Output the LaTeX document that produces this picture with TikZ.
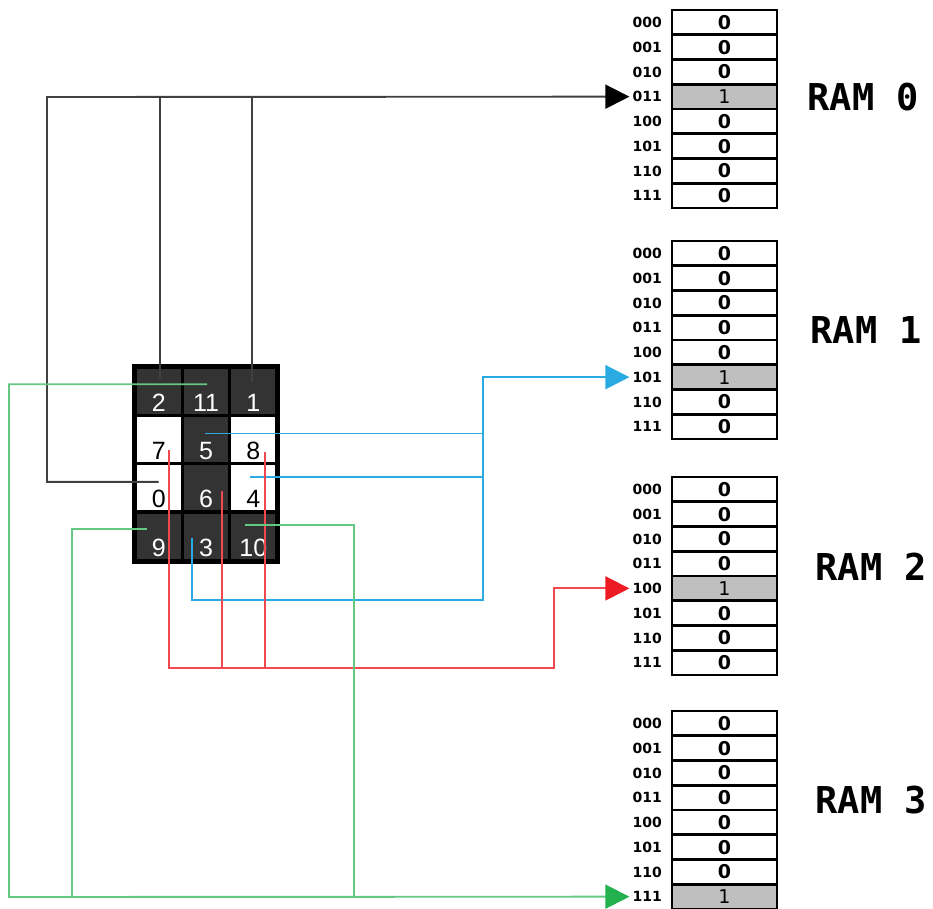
\documentclass[tikz,border=0pt]{standalone}
\usepackage{fontspec}
\usetikzlibrary{arrows.meta,calc}
\newfontfamily\cellfont{Liberation Sans}
\newfontfamily\addrfont{DejaVu Sans}
\newfontfamily\ramfont{DejaVu Sans Mono}
\definecolor{cdark}{RGB}{51,51,51}
\definecolor{cblue}{RGB}{41,171,226}
\definecolor{cred}{RGB}{237,28,36}
\definecolor{cgreen}{RGB}{34,177,76}

\begin{document}
\begin{tikzpicture}[x=1pt,y=-1pt,
   tile/.style={draw=black,line width=3.5pt,minimum width=47.3pt,minimum height=48.3pt,inner sep=0pt,
                text height=40pt,text depth=0pt,font=\cellfont\fontsize{25}{27}\selectfont},
   dk/.style={tile,fill=cdark,text=white},
   lt/.style={tile,fill=white,text=black},
   slot/.style={draw=black,line width=2.8pt,minimum width=105pt,minimum height=24.75pt,inner sep=0pt,
                font=\addrfont\fontsize{19}{19}\selectfont},
   addr/.style={anchor=east,inner sep=3pt,font=\addrfont\bfseries\fontsize{14}{14}\selectfont},
   ramlbl/.style={anchor=west,font=\ramfont\bfseries\fontsize{37}{37}\selectfont},
   wire/.style={line width=1.9pt},
   arr/.style={-{Triangle[length=24pt,width=24pt,color=#1]}}]
  \useasboundingbox (0,0) rectangle (933,908);
  % memory banks (8 words each, the hit word is grey)
  \foreach \k/\top/\hot in {0/10/3,1/241/5,2/477/4,3/711/7}{
    \foreach \a [count=\i from 0] in {000,001,010,011,100,101,110,111}{
      \ifnum\i=\hot \def\fc{gray!50}\def\v{1}\else \def\fc{white}\def\v{\bfseries 0}\fi
      \node[slot,fill=\fc] (ram\k-\i) at (724.5,\top+12.4+24.75*\i) {\v};
      \node[addr] (adr\k-\i) at (665,\top+12.4+24.75*\i) {\a};
    }
  }
  \node[ramlbl] (lbl0) at (804,97)  {RAM 0};
  \node[ramlbl] (lbl1) at (807,330) {RAM 1};
  \node[ramlbl] (lbl2) at (812,567) {RAM 2};
  \node[ramlbl] (lbl3) at (812,800) {RAM 3};
  % the 3x4 tile block
  \node[dk] (c2)  at (158.7,391.2) {2};
  \node[dk] (c11) at (206,391.2)   {11};
  \node[dk] (c1)  at (253.3,391.2) {1};
  \node[lt] (c7)  at (158.7,439.5) {7};
  \node[dk] (c5)  at (206,439.5)   {5};
  \node[lt] (c8)  at (253.3,439.5) {8};
  \node[lt] (c0)  at (158.7,487.8) {0};
  \node[dk] (c6)  at (206,487.8)   {6};
  \node[lt] (c4)  at (253.3,487.8) {4};
  \node[dk] (c9)  at (158.7,536.1) {9};
  \node[dk] (c3)  at (206,536.1)   {3};
  \node[dk] (c10) at (253.3,536.1) {10};
  \draw[line width=3pt] (c2.north west) rectangle (c10.south east);
  % wire start points inside the tiles
  \coordinate (s2)  at ([shift={(1,-12)}]c2.center);
  \coordinate (s1)  at ([shift={(-1,-9)}]c1.center);
  \coordinate (s0)  at ([shift={(0,-6)}]c0.center);
  \coordinate (s11) at ([shift={(1,-7)}]c11.center);
  \coordinate (s5)  at ([shift={(-1,-6)}]c5.center);
  \coordinate (s4)  at ([shift={(-3,-11)}]c4.center);
  \coordinate (s3)  at ([shift={(-14,2)}]c3.center);
  \coordinate (s7)  at ([shift={(10,10)}]c7.center);
  \coordinate (s6)  at ([shift={(16,3)}]c6.center);
  \coordinate (s8)  at ([shift={(12,12)}]c8.center);
  \coordinate (s9)  at ([shift={(-12,-7)}]c9.center);
  \coordinate (s10) at ([shift={(-8,-11)}]c10.center);
  % --- tiles 0,1,2 -> RAM 0 / 011 ---
  \draw[wire,draw=black!75,arr=black] (s0) -| (47,97) -- (adr0-3.west);
  \draw[wire,draw=black!75] (s2) -- (s2 |- adr0-3.west);
  \draw[wire,draw=black!75] (s1) -- (s1 |- adr0-3.west);
  % --- tiles 3,4,5 -> RAM 1 / 101 ---
  \coordinate (bbus) at (483,600);
  \draw[wire,draw=cblue,arr=cblue] (s3) |- (bbus) |- (adr1-5.west);
  \draw[wire,draw=cblue] (s5) -- (s5 -| bbus);
  \draw[wire,draw=cblue] (s4) -- (s4 -| bbus);
  % --- tiles 6,7,8 -> RAM 2 / 100 ---
  \coordinate (rbus) at (554,668);
  \draw[wire,draw=cred!80,arr=cred] (s7) |- (rbus) |- (adr2-4.west);
  \draw[wire,draw=cred!80] (s6) -- (s6 |- rbus);
  \draw[wire,draw=cred!80] (s8) -- (s8 |- rbus);
  % --- tiles 9,10,11 -> RAM 3 / 111 ---
  \draw[wire,draw=cgreen!70,arr=cgreen] (s11) -| (9,897) -- (adr3-7.west);
  \draw[wire,draw=cgreen!70] (s9) -| (72,897);
  \draw[wire,draw=cgreen!70] (s10) -| (354,897);
\end{tikzpicture}
\end{document}
